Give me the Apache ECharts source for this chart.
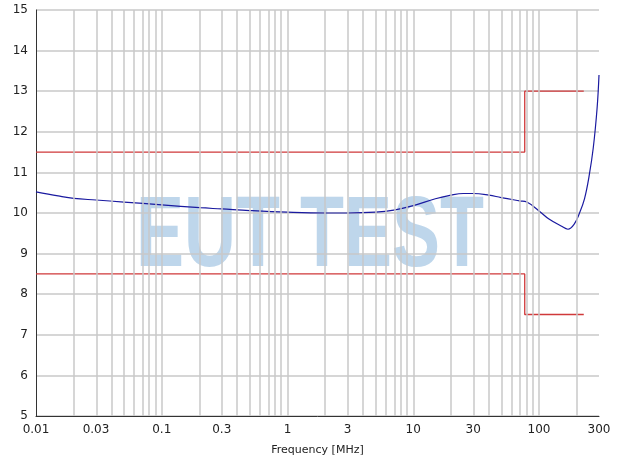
<!DOCTYPE html>
<html><head><meta charset="utf-8">
<script src="https://cdn.jsdelivr.net/npm/echarts@6/dist/echarts.min.js"></script>
<style>html,body{margin:0;background:#fff}#c{width:620px;height:467px}</style>
</head><body><div id="c"></div>
<script>
const tickLabels = [0.01,0.03,0.1,0.3,1,3,10,30,100,300];
const curveFreq = [0.01,0.015,0.02,0.03,0.05,0.1,0.2,0.3,0.5,1,2,3,5,7,10,15,20,25,30,40,50,70,80,100,120,150,170,190,210,230,250,270,290,300];
const curveVal  = [10.52,10.42,10.36,10.32,10.27,10.2,10.13,10.1,10.06,10.02,10.0,10.0,10.02,10.07,10.18,10.35,10.44,10.48,10.48,10.44,10.38,10.3,10.27,10.05,9.85,9.68,9.6,9.72,10.0,10.35,10.9,11.6,12.6,13.4];
const upperFreq = [0.01,77,77,227];
const upperVal  = [11.5,11.5,13,13];
const lowerFreq = [0.01,77,77,227];
const lowerVal  = [8.5,8.5,7.5,7.5];
const L = Math.log10;
const pts = (f,v)=>f.map((x,i)=>[L(x),v[i]]);
const gridVals=[];
for(let e=-2;e<=2;e++)for(let k=1;k<=9;k++){const f=k*Math.pow(10,e);if(f>0.01&&f<300)gridVals.push({xAxis:L(f)});}
const chart=echarts.init(document.getElementById('c'));
chart.setOption({
  animation:false,
  grid:{left:36,right:21,top:10,bottom:51},
  xAxis:{type:'value',min:L(0.01),max:L(300),
    name:'Frequency [MHz]',nameLocation:'middle',nameGap:29,
    nameTextStyle:{fontFamily:'DejaVu Sans',fontSize:11,color:'#222'},
    axisLine:{onZero:false,lineStyle:{color:'#333'}},axisTick:{show:false},splitLine:{show:false},
    axisLabel:{customValues:tickLabels.map(L),fontFamily:'DejaVu Sans',fontSize:12,color:'#222',
      formatter:v=>{const f=Math.pow(10,v);return String(parseFloat(f.toPrecision(2)));}}},
  yAxis:{type:'value',min:5,max:15,interval:1,
    axisLine:{show:true,onZero:false,lineStyle:{color:'#333'}},axisTick:{show:false},
    axisLabel:{fontFamily:'DejaVu Sans',fontSize:12,color:'#222'},
    splitLine:{lineStyle:{color:'#c8c8c8',width:1.5}}},
  graphic:[{type:'text',left:'center',top:188,z:-1,scaleX:0.72,originX:315,silent:true,
    style:{text:'EUT TEST',font:'bold 100px "Liberation Sans"',fill:'rgba(110,165,210,0.45)'}}],
  series:[
    {type:'line',data:[],silent:true,markLine:{symbol:'none',silent:true,label:{show:false},
      lineStyle:{color:'#c8c8c8',type:'solid',width:1.5},data:gridVals}},
    {type:'line',data:pts(upperFreq,upperVal),symbol:'none',lineStyle:{color:'#d0393a',width:1.3}},
    {type:'line',data:pts(lowerFreq,lowerVal),symbol:'none',lineStyle:{color:'#d0393a',width:1.3}},
    {type:'line',data:pts(curveFreq,curveVal),symbol:'none',smooth:0.4,lineStyle:{color:'#1a1aa0',width:1.2}}
  ]
});
</script></body></html>
